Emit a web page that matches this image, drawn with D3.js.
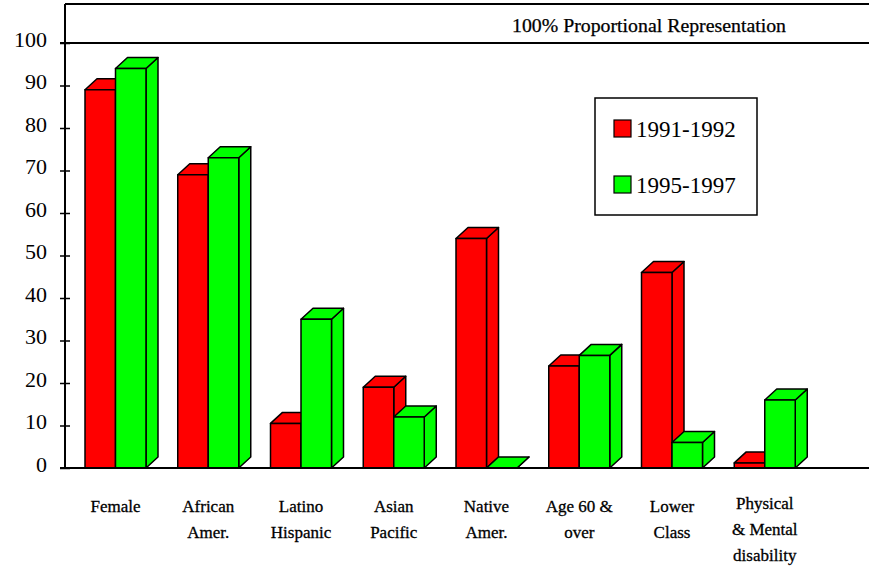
<!DOCTYPE html>
<html>
<head>
<meta charset="utf-8">
<script src="https://cdn.jsdelivr.net/npm/d3@7"></script>
<style>
  html, body { margin: 0; padding: 0; background: #fff; }
  svg { display: block; }
  svg text { font-family: "Liberation Serif", "DejaVu Serif", serif !important; fill: #000; }
</style>
</head>
<body>
<svg id="chart" width="869" height="573"></svg>
<script>
// ---- data ----
const categories = [
  ["Female"],
  ["African", "Amer."],
  ["Latino", "Hispanic"],
  ["Asian", "Pacific"],
  ["Native", "Amer."],
  ["Age 60 &", "over"],
  ["Lower", "Class"],
  ["Physical", "& Mental", "disability"]
];
const seriesNames = ["1991-1992", "1995-1997"];
const values1991 = [89, 69, 10.5, 19, 54, 24, 46, 1.2];
const values1995 = [94, 73, 35, 12, 0, 26.5, 6, 16];
const yTicks = [0, 10, 20, 30, 40, 50, 60, 70, 80, 90, 100];
const refLabel = "100% Proportional Representation";
const colors = ["#ff0000", "#00ff00"];

// ---- layout ----
const FONT = "'Liberation Serif', 'DejaVu Serif', serif";
const svg = d3.select("#chart");
const axisX = 65, baseY = 468, topY = 4, rightX = 869;
const catKeys = categories.map(c => c.join(" "));
const x = d3.scaleBand().domain(catKeys).range([axisX + 2, 809]).padding(0);
const y = d3.scaleLinear().domain([0, 100]).range([baseY, 43]);
const barOffset = 18, barW = 30.5, depthX = 12, depthY = 11;

// top frame line
svg.append("line").attr("x1", axisX).attr("x2", rightX).attr("y1", topY).attr("y2", topY)
  .attr("stroke", "#000").attr("stroke-width", 2);
// 100% reference line
svg.append("line").attr("x1", axisX - 5).attr("x2", rightX).attr("y1", y(100)).attr("y2", y(100))
  .attr("stroke", "#000").attr("stroke-width", 2);
svg.append("text").attr("x", 649).attr("y", 32).attr("text-anchor", "middle")
  .attr("font-family", FONT).attr("stroke", "#000").attr("stroke-width", 0.25)
  .attr("font-size", 18).attr("textLength", 274).attr("lengthAdjust", "spacingAndGlyphs")
  .text(refLabel);

// y axis
const yAxis = d3.axisLeft(y).tickValues(yTicks).tickSize(5).tickPadding(13).tickFormat(d3.format("d"));
const gy = svg.append("g").attr("transform", `translate(${axisX},0)`).call(yAxis)
  .attr("font-family", FONT);
gy.select(".domain").remove();
gy.selectAll(".tick line").attr("x1", 5).attr("x2", -5).attr("stroke", "#000").attr("stroke-width", 1.5);
gy.selectAll(".tick text").attr("font-size", 22).attr("font-family", FONT)
  .attr("dy", "0.14em").attr("fill", "#000");
svg.append("line").attr("x1", axisX).attr("x2", axisX).attr("y1", topY).attr("y2", baseY)
  .attr("stroke", "#000").attr("stroke-width", 2);

// bars
const series = [values1991, values1995];
const gBars = svg.append("g");
function bar3d(g, bx, v, color) {
  const yt = y(v), w = barW;
  const grp = g.append("g").attr("fill", color).attr("stroke", "#000")
    .attr("stroke-width", 1.5).attr("stroke-linejoin", "round");
  grp.append("path").attr("d", d3.line()([
    [bx + w, yt], [bx + w + depthX, yt - depthY], [bx + w + depthX, baseY - depthY], [bx + w, baseY]
  ]) + "Z");
  grp.append("path").attr("d", d3.line()([
    [bx, yt], [bx + depthX, yt - depthY], [bx + w + depthX, yt - depthY], [bx + w, yt]
  ]) + "Z");
  grp.append("rect").attr("x", bx).attr("y", yt).attr("width", w).attr("height", baseY - yt);
}
catKeys.forEach((c, i) => {
  const gx = x(c) + barOffset;
  series.forEach((vals, s) => bar3d(gBars, gx + s * barW, vals[i], colors[s]));
});

// baseline
svg.append("line").attr("x1", axisX - 5).attr("x2", rightX).attr("y1", baseY).attr("y2", baseY)
  .attr("stroke", "#000").attr("stroke-width", 2);

// x labels
categories.forEach((lines, i) => {
  const cx = x(catKeys[i]) + barOffset + barW;
  const t = svg.append("text").attr("x", cx).attr("y", 512 - (lines.length > 2 ? 3 : 0))
    .attr("text-anchor", "middle").attr("font-size", 17).attr("font-family", FONT)
    .attr("stroke", "#000").attr("stroke-width", 0.3);
  lines.forEach((l, j) => t.append("tspan").attr("x", cx).attr("dy", j === 0 ? 0 : 26).text(l));
});

// legend
const lg = svg.append("g");
lg.append("rect").attr("x", 595).attr("y", 98).attr("width", 162).attr("height", 117)
  .attr("fill", "#fff").attr("stroke", "#000").attr("stroke-width", 1.5);
seriesNames.forEach((n, i) => {
  const yy = 120 + i * 56;
  lg.append("rect").attr("x", 614).attr("y", yy).attr("width", 17).attr("height", 17)
    .attr("fill", colors[i]).attr("stroke", "#000").attr("stroke-width", 1.2);
  lg.append("text").attr("x", 636).attr("y", yy + 17).attr("font-size", 23)
    .attr("font-family", FONT).text(n);
});
</script>
</body>
</html>
